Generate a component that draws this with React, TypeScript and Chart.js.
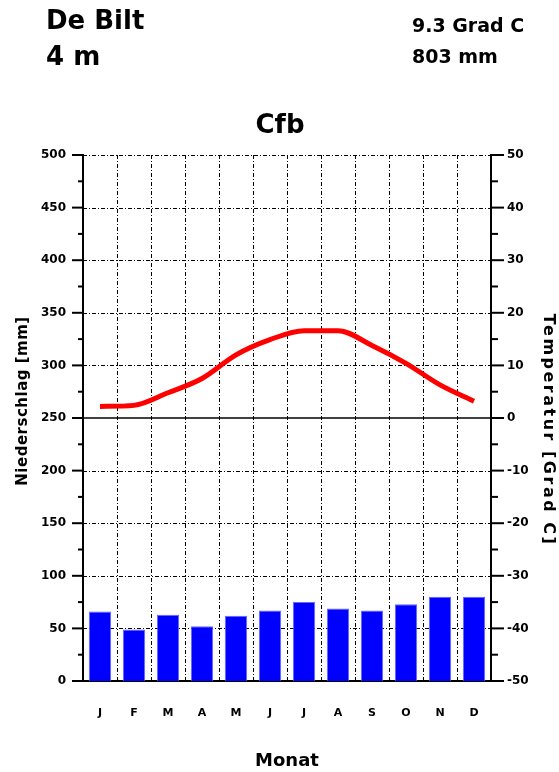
import React, { useEffect, useRef } from "react";
import { Chart, registerables } from "chart.js";

Chart.register(...registerables);

const months = ["J", "F", "M", "A", "M", "J", "J", "A", "S", "O", "N", "D"];
const precipitation = [66, 49, 63, 52, 62, 67, 75, 69, 67, 73, 80, 80];
const temperature = [2.2, 2.4, 4.8, 7.5, 12.0, 14.9, 16.6, 16.6, 13.8, 10.4, 6.3, 3.2];
const precipTicks = [0, 50, 100, 150, 200, 250, 300, 350, 400, 450, 500];
const tempTicks = [-50, -40, -30, -20, -10, 0, 10, 20, 30, 40, 50];

const station = "De Bilt";
const elevation = "4 m";
const meanTemp = "9.3 Grad C";
const totalPrecip = "803 mm";
const climateClass = "Cfb";
const xTitle = "Monat";
const leftTitle = "Niederschlag [mm]";
const rightTitle = "Temperatur [Grad C]";

const FONT = "'DejaVu Sans', sans-serif";

const overlay = {
  id: "overlay",
  beforeDatasetsDraw(chart: any) {
    const { ctx, chartArea: a, scales } = chart;
    const y = scales.y;
    const x = scales.x;
    ctx.save();
    ctx.strokeStyle = "#000";
    ctx.lineWidth = 1;
    ctx.setLineDash([4, 2, 1, 2]);
    for (const v of precipTicks) {
      if (v === 0 || v === 250) continue;
      const py = Math.round(y.getPixelForValue(v)) + 0.5;
      ctx.beginPath();
      ctx.moveTo(a.left, py);
      ctx.lineTo(a.right, py);
      ctx.stroke();
    }
    for (let k = 1; k < months.length; k++) {
      const px = Math.round((x.getPixelForValue(k - 1) + x.getPixelForValue(k)) / 2) + 0.5;
      ctx.beginPath();
      ctx.moveTo(px, a.top);
      ctx.lineTo(px, a.bottom);
      ctx.stroke();
    }
    ctx.setLineDash([]);
    ctx.lineWidth = 1.5;
    const p250 = y.getPixelForValue(250);
    ctx.beginPath();
    ctx.moveTo(a.left, p250);
    ctx.lineTo(a.right, p250);
    ctx.stroke();
    ctx.restore();
  },
  afterDraw(chart: any) {
    const { ctx, chartArea: a, scales } = chart;
    const y = scales.y;
    ctx.save();
    ctx.strokeStyle = "#000";
    ctx.lineWidth = 2;
    for (let v = 0; v <= 500; v += 25) {
      const py = y.getPixelForValue(v);
      const major = v % 50 === 0;
      ctx.beginPath();
      ctx.moveTo(a.left - (major ? 11 : 5), py);
      ctx.lineTo(a.left, py);
      ctx.stroke();
      ctx.beginPath();
      ctx.moveTo(a.right, py);
      ctx.lineTo(a.right + (major ? 13 : 7), py);
      ctx.stroke();
    }
    ctx.fillStyle = "#000";
    ctx.textAlign = "left";
    ctx.textBaseline = "alphabetic";
    ctx.font = `bold 26px ${FONT}`;
    ctx.fillText(station, 46, 29);
    ctx.fillText(elevation, 46, 65);
    ctx.font = `bold 19px ${FONT}`;
    ctx.fillText(meanTemp, 412, 32);
    ctx.fillText(totalPrecip, 412, 63);
    ctx.textAlign = "center";
    ctx.font = `bold 26px ${FONT}`;
    ctx.fillText(climateClass, 280, 133);
    ctx.font = `bold 18px ${FONT}`;
    ctx.fillText(xTitle, 287, 766);
    ctx.textBaseline = "middle";
    ctx.font = `bold 15px ${FONT}`;
    ctx.save();
    ctx.translate(23, 401);
    ctx.rotate(-Math.PI / 2);
    (ctx as any).letterSpacing = "0.5px";
    ctx.fillText(leftTitle, 0, 0);
    ctx.restore();
    ctx.save();
    ctx.translate(548, 430);
    ctx.rotate(Math.PI / 2);
    ctx.font = `bold 16px ${FONT}`;
    (ctx as any).letterSpacing = "2.5px";
    ctx.fillText(rightTitle, 0, 0);
    ctx.restore();
    ctx.restore();
  },
};

export default function App() {
  const ref = useRef<HTMLCanvasElement | null>(null);
  useEffect(() => {
    if (!ref.current) return;
    Chart.defaults.font.family = FONT;
    const chart = new Chart(ref.current, {
      type: "bar",
      data: {
        labels: months,
        datasets: [
          {
            type: "line",
            label: "Temperatur",
            data: temperature,
            yAxisID: "y1",
            borderColor: "#ff0000",
            borderWidth: 5,
            pointRadius: 0,
            cubicInterpolationMode: "monotone",
            order: 0,
          } as any,
          {
            type: "bar",
            label: "Niederschlag",
            data: precipitation,
            yAxisID: "y",
            backgroundColor: "#0000ff",
            borderColor: "#6666ff",
            borderWidth: 1,
            barPercentage: 0.66,
            categoryPercentage: 1,
            order: 1,
          },
        ],
      },
      options: {
        responsive: false,
        animation: false,
        layout: { padding: { top: 155, left: 0, right: 0, bottom: 0 } },
        plugins: { legend: { display: false }, tooltip: { enabled: false }, title: { display: false } },
        scales: {
          x: {
            offset: true,
            grid: { display: false, drawTicks: false },
            border: { display: true, color: "#000", width: 2 },
            ticks: { color: "#000", font: { size: 11, weight: "bold" }, padding: 26, maxRotation: 0 },
            afterFit: (s: any) => {
              s.height = 91;
            },
          },
          y: {
            position: "left",
            min: 0,
            max: 500,
            grid: { display: false, drawTicks: false },
            border: { display: true, color: "#000", width: 2 },
            ticks: { stepSize: 50, color: "#000", font: { size: 12, weight: "bold" }, padding: 17 },
            afterFit: (s: any) => {
              s.width = 83;
            },
          },
          y1: {
            position: "right",
            min: tempTicks[0],
            max: tempTicks[tempTicks.length - 1],
            grid: { display: false, drawTicks: false },
            border: { display: true, color: "#000", width: 2 },
            ticks: { stepSize: 10, color: "#000", font: { size: 12, weight: "bold" }, padding: 16 },
            afterFit: (s: any) => {
              s.width = 68;
            },
          },
        },
      },
      plugins: [overlay],
    } as any);
    return () => chart.destroy();
  }, []);
  return (
    <div style={{ position: "absolute", left: 0, top: 0, width: 559, height: 772 }}>
      <canvas ref={ref} width={559} height={772} style={{ width: 559, height: 772, display: "block" }} />
    </div>
  );
}
